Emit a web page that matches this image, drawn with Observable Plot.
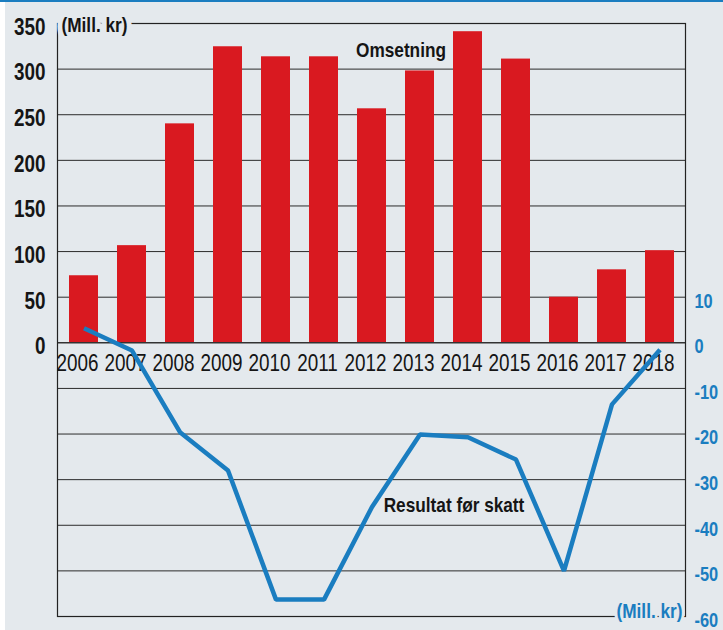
<!DOCTYPE html>
<html>
<head>
<meta charset="utf-8">
<script src="https://cdn.jsdelivr.net/npm/d3@7"></script>
<script src="https://cdn.jsdelivr.net/npm/@observablehq/plot@0.6"></script>
<style>
  html, body { margin: 0; padding: 0; background: #fff; }
  #chart svg { display: block; }
</style>
</head>
<body>
<div id="chart"></div>
<script>
// ---- data ----
const years = ["2006","2007","2008","2009","2010","2011","2012","2013","2014","2015","2016","2017","2018"];
const omsetning = [73.5, 106.5, 240, 324.5, 313.5, 313.5, 256.5, 298, 341, 311, 50, 80, 101]; // left axis, Mill. kr
const resultat = [3.2, -1.7, -19.6, -28, -56.3, -56.3, -36, -20.1, -20.7, -25.6, -50, -13.5, -1.5]; // right axis, Mill. kr
const leftTicks = [0, 50, 100, 150, 200, 250, 300, 350];
const rightTicks = [10, 0, -10, -20, -30, -40, -50, -60];
const RATIO = 5; // 1 unit on the right axis = 5 units on the left axis

const FONT = '"Liberation Sans", Arial, sans-serif';
const CONDENSE = 0.82; // narrow the glyphs like a condensed face
const BG = "#e4e9ed";
const RED = "#d91920";
const BLUE = "#1a7dc0";
const INK = "#151515";

const data = years.map((year, i) => ({ year, oms: omsetning[i], res: resultat[i] }));
const grid = Array.from(new Set([...leftTicks, ...rightTicks.map(v => v * RATIO)]));

const chart = Plot.plot({
  width: 723,
  height: 630,
  marginLeft: 57,
  marginRight: 38,
  marginTop: 23,
  marginBottom: 14,
  x: { type: "band", domain: years, paddingInner: 0.4, paddingOuter: 0.2, axis: null },
  y: { domain: [-300, 350], axis: null },
  marks: [
    Plot.ruleY(grid.filter(v => v !== 0), { stroke: "#2b2b2b", strokeWidth: 1 }),
    Plot.barY(data, { x: "year", y: "oms", fill: RED }),
    Plot.ruleY([0], { stroke: "#333", strokeWidth: 1.6 }),
    Plot.frame({ stroke: "#222", strokeWidth: 1.2 }),
    // left axis labels
    Plot.text(leftTicks, {
      y: d => d, text: d => String(d), frameAnchor: "left", textAnchor: "end",
      dx: -12, dy: 4, fontSize: 23, fontWeight: "bold", fill: INK, fontFamily: FONT
    }),
    // right axis labels
    Plot.text(rightTicks, {
      y: d => d * RATIO, text: d => String(d), frameAnchor: "right", textAnchor: "start",
      dx: 9, dy: 4, fontSize: 20, fontWeight: "bold", fill: BLUE, fontFamily: FONT
    }),
    // year labels
    Plot.text(data, {
      x: "year", y: () => 0, text: "year", dx: -6.5, dy: 21,
      fontSize: 23, fill: INK, fontFamily: FONT
    }),
    // result line
    Plot.line(data, {
      x: "year", y: d => d.res * RATIO, stroke: BLUE, strokeWidth: 4.5,
      strokeLinejoin: "miter", strokeLinecap: "butt"
    }),
    // annotations
    Plot.text(["Omsetning"], {
      x: () => "2012", y: () => 321, dx: 29, text: d => d,
      fontSize: 21, fontWeight: "bold", fill: INK, fontFamily: FONT
    }),
    Plot.text(["Resultat før skatt"], {
      x: () => "2014", y: () => -178, dx: -14, text: d => d,
      fontSize: 21, fontWeight: "bold", fill: INK, fontFamily: FONT
    }),
    Plot.text(["(Mill. kr)"], {
      frameAnchor: "top-left", text: d => d, textAnchor: "start", lineAnchor: "middle",
      dx: 4, dy: 2, fontSize: 21, fontWeight: "bold", fill: INK, fontFamily: FONT,
      stroke: BG, strokeWidth: 12, paintOrder: "stroke"
    }),
    Plot.text(["(Mill. kr)"], {
      frameAnchor: "bottom-right", text: d => d, textAnchor: "end", lineAnchor: "middle",
      dx: -3, dy: -5, fontSize: 21, fontWeight: "bold", fill: BLUE, fontFamily: FONT,
      stroke: BG, strokeWidth: 7, paintOrder: "stroke"
    })
  ]
});

chart.style.fontFamily = FONT;
chart.style.overflow = "visible";
chart.style.background =
  "linear-gradient(" + BLUE + "," + BLUE + ") 0 0 / 100% 2px no-repeat, " +
  "linear-gradient(to right, #fff 5px, " + BG + " 5px)";
document.getElementById("chart").appendChild(chart);

// condense every label horizontally (no condensed face is installed)
chart.querySelectorAll("text").forEach(t => {
  const w = t.getComputedTextLength();
  if (w > 0) {
    t.setAttribute("textLength", (w * CONDENSE).toFixed(2));
    t.setAttribute("lengthAdjust", "spacingAndGlyphs");
  }
});
</script>
</body>
</html>
